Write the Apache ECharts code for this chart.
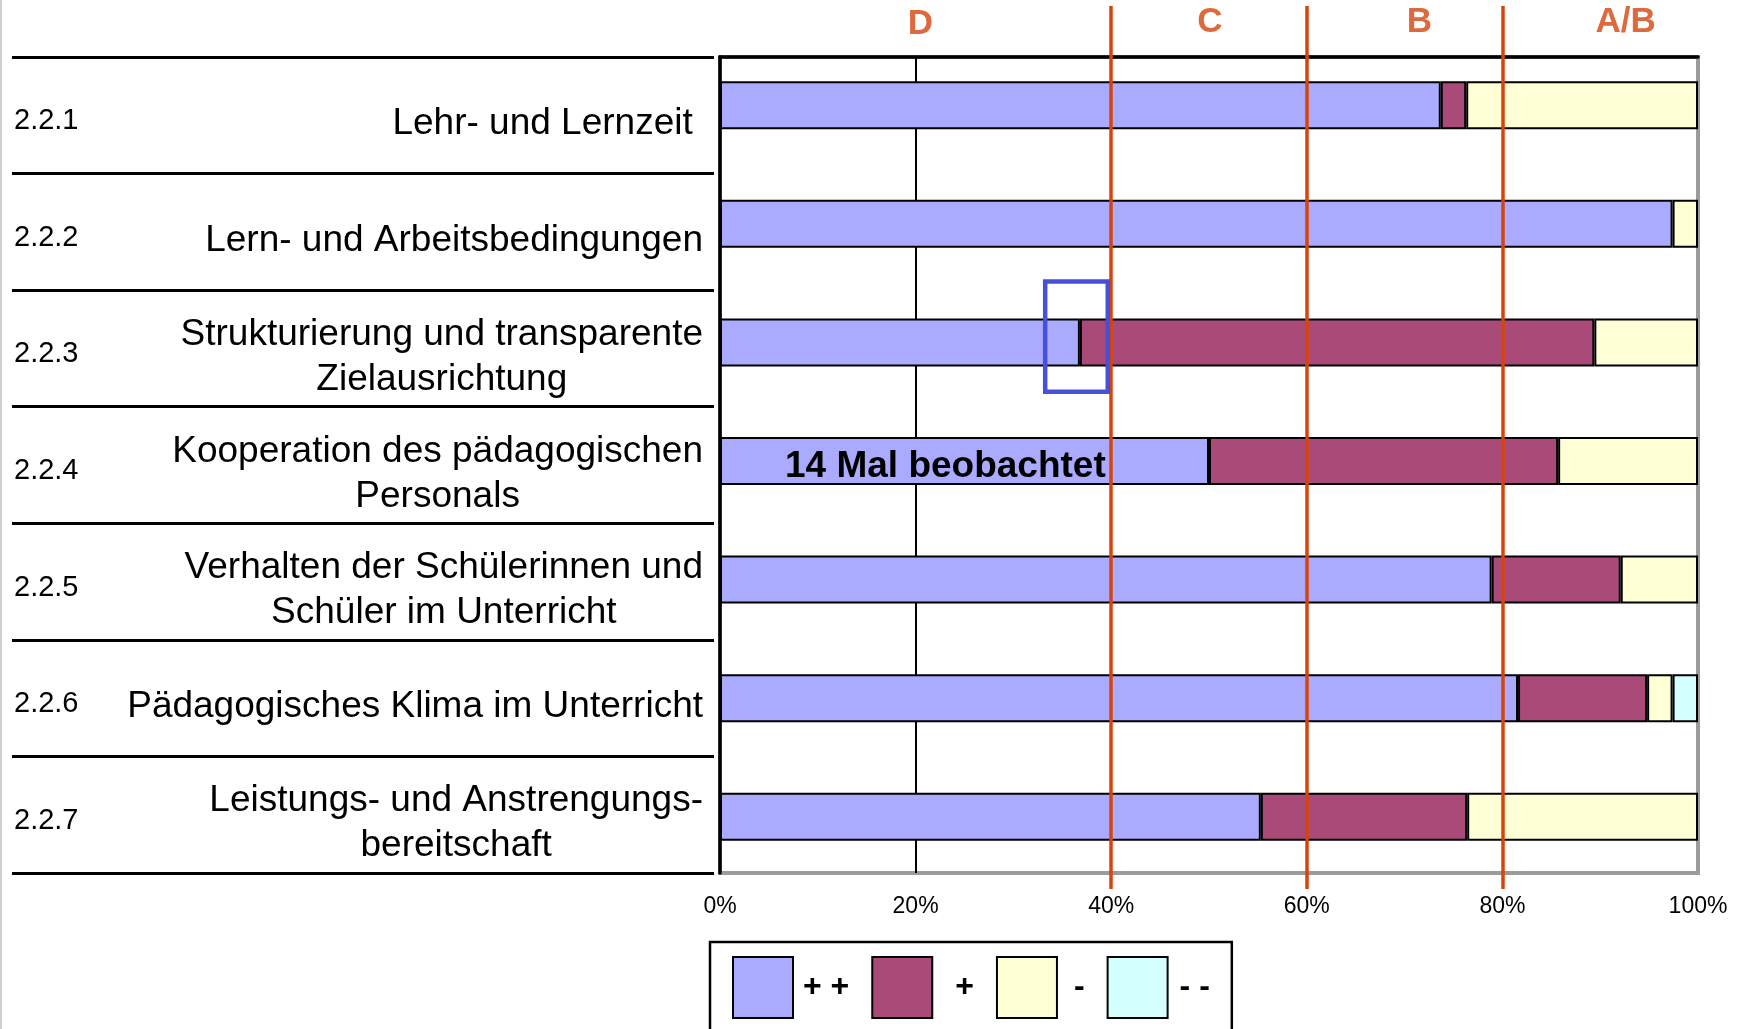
<!DOCTYPE html>
<html>
<head>
<meta charset="utf-8">
<title>Unterrichtsbeobachtung 2.2</title>
<script src="https://cdn.jsdelivr.net/npm/echarts@6/dist/echarts.min.js"></script>
<style>
	html, body {
		margin: 0;
		padding: 0;
		background: #fff;
	}
	#chart {
		width: 1753px;
		height: 1029px;
	}
	.pageEdge {
		position: absolute;
		left: 0;
		top: 0;
		width: 2px;
		height: 1029px;
		background: #cfcfcf;
	}
</style>
</head>
<body>
<div id="chart"></div>
<div class="pageEdge"></div>
<script>
	// Kriterien (Nummer + Bezeichnung, zweizeilig wo im Original umbrochen)
	var codes = ['2.2.1', '2.2.2', '2.2.3', '2.2.4', '2.2.5', '2.2.6', '2.2.7'];
	var titles = [
		['Lehr- und Lernzeit '],
		['Lern- und Arbeitsbedingungen'],
		['Strukturierung und transparente', 'Zielausrichtung'],
		['Kooperation des pädagogischen', 'Personals'],
		['Verhalten der Schülerinnen und', 'Schüler im Unterricht'],
		['Pädagogisches Klima im Unterricht'],
		['Leistungs- und Anstrengungs-', 'bereitschaft']
	];

	// Anteile in Prozent
	var plusPlus = [73.7, 97.4, 36.8, 50.0, 78.9, 81.6, 55.3];
	var plus = [2.6, 0, 52.6, 35.7, 13.2, 13.2, 21.1];
	var minus = [23.7, 2.6, 10.6, 14.3, 7.9, 2.6, 23.6];
	var minusMinus = [0, 0, 0, 0, 0, 2.6, 0];

	var seriesNames = ['+ +', '+', '-', '- -'];
	var gradeLines = [40, 60, 80];
	var zoneNames = ['D', 'C', 'B', 'A/B'];
	var noteText = '14 Mal beobachtet';
	var noteIndex = 3;

	// Layout (nicht Daten)
	var zonePos = [[20.5, 97.9], [50.1, 98.2], [71.5, 98.2], [92.6, 98.2]];
	var highlightBox = [[33.25, 68.8], [39.65, 56.3]];
	var legendTextPad = [[0, 1, 0, 5], [0, 6, 0, 18], [0, 0, 0, 12], [0, 0, 0, 7]];

	var font = "'Liberation Sans', Arial, sans-serif";
	var orange = '#D6440C';
	var colors = ['#AAAAFF', '#AA4A78', '#FFFFD6', '#D4FFFF'];

	function noZero(arr) {
		// 0 als leer, damit keine Rahmenlinie bei Breite 0 gezeichnet wird
		return arr.map(function(v) {
			return v === 0 ? null : v;
		});
	}

	var chart = echarts.init(document.getElementById('chart'));

	var barData = [plusPlus, plus, minus, minusMinus];
	var barSeries = barData.map(function(arr, i) {
		var data = noZero(arr);
		if (i === 0) {
			data = data.map(function(v, k) {
				if (k !== noteIndex) return v;
				return {
					value: v,
					label: {
						show: true,
						position: 'insideLeft',
						distance: 65,
						offset: [0, 6],
						formatter: noteText,
						color: '#000',
						fontWeight: 'bold',
						fontSize: 37,
						fontFamily: font
					}
				};
			});
		}
		return {
			name: seriesNames[i],
			type: 'bar',
			stack: 'total',
			xAxisIndex: 0,
			yAxisIndex: 0,
			barWidth: 48,
			silent: true,
			itemStyle: {
				color: colors[i],
				borderColor: '#000',
				borderWidth: 2
			},
			data: data
		};
	});

	var zoneData = zoneNames.map(function(n, i) {
		return {
			name: n,
			value: zonePos[i]
		};
	});

	chart.setOption({
		animation: false,
		backgroundColor: '#fff',
		textStyle: {
			fontFamily: font
		},
		grid: [
			// Balken
			{ left: 720, top: 46, width: 978, height: 830, containLabel: false, outerBoundsMode: 'none' },
			// Rahmen + Beschriftung
			{ left: 720, top: 57, width: 978, height: 816, containLabel: false, outerBoundsMode: 'none',
				show: true, borderColor: '#9b9b9b', borderWidth: 4, backgroundColor: 'transparent' },
			// Tabellenlinien links
			{ left: 12, top: 57, width: 702, height: 816, containLabel: false, outerBoundsMode: 'none' },
			// Notenlinien + Markierungen
			{ left: 720, top: 6, width: 978, height: 883, containLabel: false, outerBoundsMode: 'none' },
			// Nummern (etwas tiefer als die Zeilenmitte)
			{ left: 12, top: 63, width: 702, height: 816, containLabel: false, outerBoundsMode: 'none' }
		],
		legend: {
			data: seriesNames.map(function(n, i) {
				return {
					name: n,
					textStyle: { padding: legendTextPad[i] }
				};
			}),
			left: 710,
			top: 942,
			orient: 'horizontal',
			icon: 'rect',
			itemWidth: 60,
			itemHeight: 61,
			itemGap: 22,
			padding: [14, 22, 14, 22],
			borderColor: '#000',
			borderWidth: 2.5,
			selectedMode: false,
			textStyle: {
				color: '#000',
				fontWeight: 'bold',
				fontSize: 32,
				fontFamily: font
			}
		},
		xAxis: [{
				gridIndex: 0,
				type: 'value',
				min: 0,
				max: 100,
				show: false
			},
			{
				gridIndex: 1,
				type: 'value',
				position: 'top',
				min: 0,
				max: 100,
				interval: 20,
				axisLine: { show: true, lineStyle: { color: '#000', width: 3.5 } },
				axisTick: { show: false },
				axisLabel: { show: false },
				splitLine: {
					show: true,
					showMinLine: false,
					showMaxLine: false,
					lineStyle: { color: '#000', width: 2 }
				}
			},
			{
				gridIndex: 1,
				type: 'value',
				position: 'bottom',
				min: 0,
				max: 100,
				interval: 20,
				axisLine: { show: false },
				axisTick: { show: false },
				splitLine: { show: false },
				axisLabel: {
					formatter: '{value}%',
					margin: 22,
					color: '#000',
					fontSize: 23,
					fontFamily: font
				}
			},
			{
				gridIndex: 2,
				type: 'value',
				show: false
			},
			{
				gridIndex: 3,
				type: 'value',
				min: 0,
				max: 100,
				show: false
			},
			{
				gridIndex: 4,
				type: 'value',
				show: false
			}
		],
		yAxis: [{
				gridIndex: 0,
				type: 'category',
				inverse: true,
				data: codes,
				show: false
			},
			{
				gridIndex: 1,
				type: 'category',
				inverse: true,
				data: codes,
				axisLine: { show: true, lineStyle: { color: '#000', width: 3.5 } },
				axisTick: { show: false },
				splitLine: { show: false },
				axisLabel: {
					interval: 0,
					margin: 17,
					align: 'right',
					padding: [18, 0, 0, 0],
					formatter: function(value, idx) {
						return titles[idx].map(function(t) {
							return '{t|' + t + '}';
						}).join('\n');
					},
					rich: {
						t: {
							align: 'center',
							fontSize: 37,
							lineHeight: 45,
							color: '#000',
							fontFamily: font
						}
					}
				}
			},
			{
				gridIndex: 2,
				type: 'category',
				inverse: true,
				data: codes,
				axisLine: { show: false },
				axisTick: { show: false },
				axisLabel: { show: false },
				splitLine: {
					show: true,
					interval: 0,
					lineStyle: { color: '#000', width: 3 }
				}
			},
			{
				gridIndex: 3,
				type: 'value',
				min: 0,
				max: 100,
				show: false
			},
			{
				gridIndex: 4,
				type: 'category',
				inverse: true,
				data: codes,
				axisLine: { show: false },
				axisTick: { show: false },
				splitLine: { show: false },
				axisLabel: {
					interval: 0,
					inside: true,
					margin: 2,
					align: 'left',
					color: '#000',
					fontSize: 29,
					fontFamily: font
				}
			}
		],
		series: barSeries.concat([{
			name: 'Noten',
			type: 'scatter',
			xAxisIndex: 4,
			yAxisIndex: 3,
			symbolSize: 1,
			silent: true,
			itemStyle: { color: 'rgba(0,0,0,0)' },
			label: {
				show: true,
				position: 'inside',
				formatter: '{b}',
				color: orange,
				fontWeight: 'bold',
				fontSize: 35,
				fontFamily: font
			},
			data: zoneData,
			markLine: {
				silent: true,
				z: 5,
				symbol: ['none', 'none'],
				label: { show: false },
				lineStyle: { color: orange, width: 3.5, type: 'solid' },
				data: gradeLines.map(function(v) {
					return { xAxis: v };
				})
			},
			markArea: {
				silent: true,
				z: 6,
				itemStyle: {
					color: 'rgba(0,0,0,0)',
					borderColor: '#4650D8',
					borderWidth: 4.5
				},
				data: [
					[{ coord: highlightBox[0] }, { coord: highlightBox[1] }]
				]
			}
		}])
	});
</script>
</body>
</html>
